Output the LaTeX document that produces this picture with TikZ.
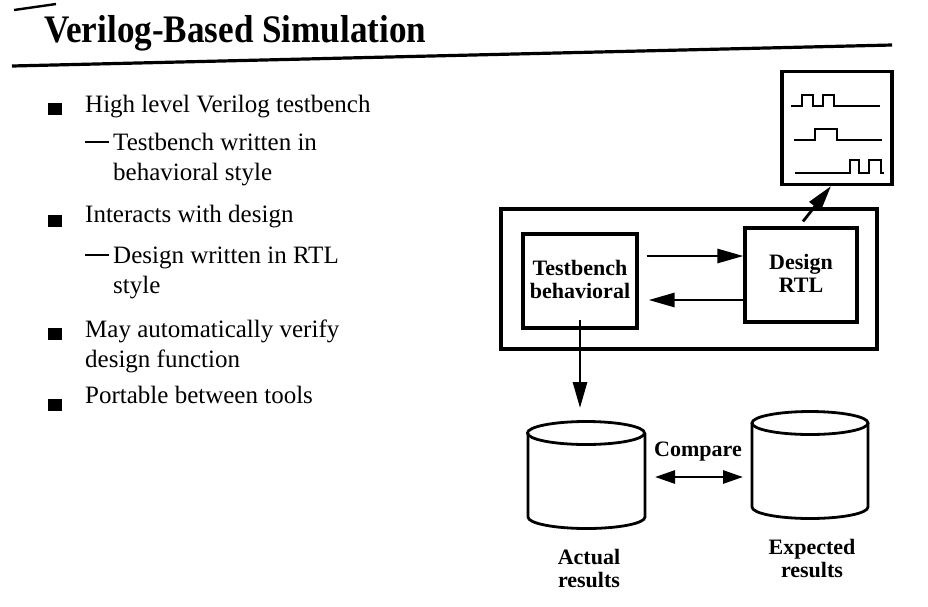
\documentclass[tikz,border=0pt]{standalone}
\usepackage{fontspec}
\usepackage{graphicx}
\setmainfont{Liberation Serif}
\usetikzlibrary{arrows.meta}
\begin{document}
\begin{tikzpicture}[x=1pt,y=-1pt,
  bodytext/.style={anchor=base west,inner sep=0pt,font=\fontsize{25}{30}\selectfont},
  bulletsq/.style={fill=black,draw=none,minimum width=14,minimum height=12,inner sep=0pt},
  blockbox/.style={draw,line width=3.2pt,inner sep=0pt},
  lbl/.style={font=\bfseries\fontsize{22}{23}\selectfont,align=center,inner sep=0pt},
  arr/.style={line width=2.8pt,-{Triangle[length=26pt,width=14pt]}},
  darr/.style={line width=2.8pt,{Triangle[length=20pt,width=13pt]}-{Triangle[length=20pt,width=13pt]}},
  wave/.style={line width=2.8pt},
  cyl/.style={line width=2.8pt}]
\useasboundingbox (0,0) rectangle (928,606);
\fill[white] (0,0) rectangle (928,606);

% title
\node[anchor=base west,inner sep=0pt,font=\bfseries\fontsize{39}{40}\selectfont] (title) at (44,42) {\scalebox{0.9}[1]{Verilog-Based Simulation}};
\coordinate (tl1) at (14,10);
\coordinate (tl2) at (56,4);
\draw[line width=2.4pt] (tl1) -- (tl2);
\coordinate (r1) at (12,66);
\coordinate (r2) at (892,45);
\draw[line width=3.2pt] (r1) -- (r2);

% bullet list
\node[bulletsq] (b1) at (55,109) {};
\node[bodytext] (t1) at (85,112) {High level Verilog testbench};
\node[bodytext] (t1a) at (85,150) {\rule[0.3em]{24pt}{1.4pt}\hspace{4pt}Testbench written in};
\node[bodytext] (t1b) at (113,180) {behavioral style};
\node[bulletsq] (b2) at (55,221) {};
\node[bodytext] (t2) at (85,222) {Interacts with design};
\node[bodytext] (t2a) at (85,263) {\rule[0.3em]{24pt}{1.4pt}\hspace{4pt}Design written in RTL};
\node[bodytext] (t2b) at (113,293) {style};
\node[bulletsq] (b3) at (55,334) {};
\node[bodytext] (t3) at (85,337) {May automatically verify};
\node[bodytext] (t3b) at (85,367) {design function};
\node[bulletsq] (b4) at (55,405) {};
\node[bodytext] (t4) at (85,403) {Portable between tools};

% waveform box
\node[blockbox,minimum width=110,minimum height=113] (wf) at (837,128) {};
\draw[wave] (791,106) -- (802,106) -- (802,95) -- (813,95) -- (813,106) -- (823,106) -- (823,95) -- (834,95) -- (834,106) -- (880,106);
\draw[wave] (794,140) -- (815,140) -- (815,129) -- (837,129) -- (837,140) -- (882,140);
\draw[wave] (795,173) -- (850,173) -- (850,160) -- (859,160) -- (859,173) -- (869,173) -- (869,160) -- (881,160) -- (881,173) -- (884,173);

% outer box and blocks
\node[blockbox,minimum width=376,minimum height=140] (outer) at (689,279) {};
\node[blockbox,minimum width=114,minimum height=94] (tb) at (580,281) {};
\node[lbl] (tbl) at (580,279) {Testbench\\behavioral};
\node[blockbox,minimum width=112,minimum height=94] (dut) at (801,275) {};
\node[lbl] (dutl) at (801,273) {Design\\RTL};

\draw[arr] (tb.east |- 0,256) ++(8,0) coordinate (a1s) -- (dut.west |- 0,256) coordinate (a1e);
\draw[arr] (dut.west |- 0,300) -- ([xshift=10pt]tb.east |- 0,300);
\draw[arr] (dut.north) ++(2,-5) coordinate (dn) -- ([xshift=-6pt]wf.south);
\draw[arr] ([yshift=10pt]tb.south) -- (580,408) coordinate (aend);

% cylinders
\coordinate (c1) at (586,433);
\draw[cyl] (528,433) -- (528,517) arc[start angle=180,end angle=0,x radius=58.5,y radius=11.5] -- (645,433);
\draw[cyl] (c1) ellipse[x radius=58.5,y radius=11.5];
\coordinate (c2) at (810,423);
\draw[cyl] (752,423) -- (752,507) arc[start angle=180,end angle=0,x radius=58,y radius=11.5] -- (868,423);
\draw[cyl] (c2) ellipse[x radius=58,y radius=11.5];
\node[inner sep=0pt,minimum width=117,minimum height=107] (act) at (586,478) {};
\node[inner sep=0pt,minimum width=116,minimum height=107] (exp) at (810,468) {};

\node[lbl] (cmp) at (698,452) {Compare};
\draw[darr] (655,477) -- (743,477);

\node[lbl] (actl) at (589,568) {Actual\\results};
\node[lbl] (expl) at (812,558) {Expected\\results};
\end{tikzpicture}
\end{document}
